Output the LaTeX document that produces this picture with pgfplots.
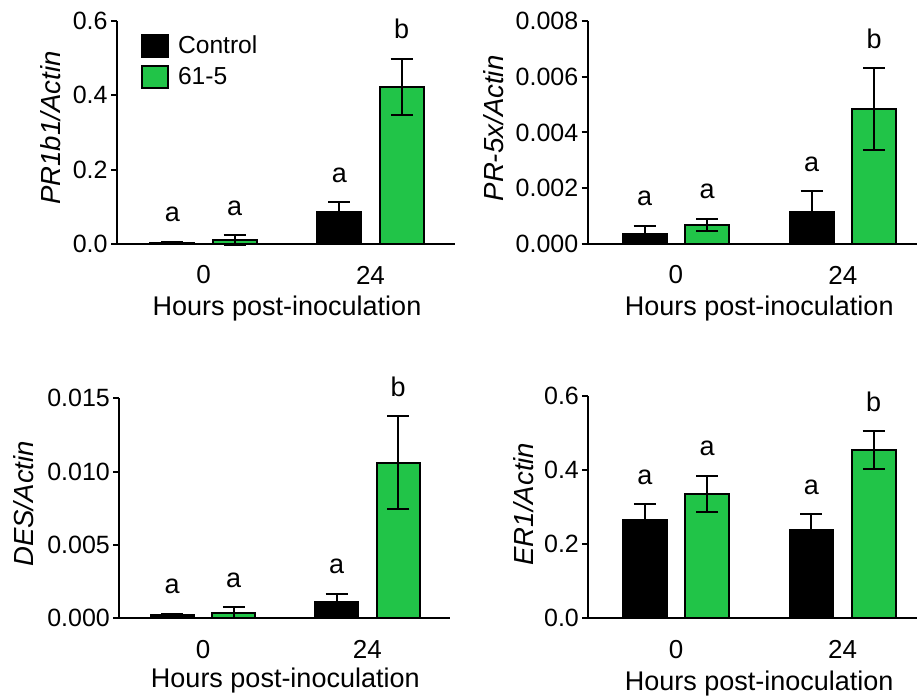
\documentclass[border=0pt]{standalone}
\usepackage{fontspec}
\setmainfont{Liberation Sans}
\usepackage{pgfplots}
\pgfplotsset{compat=1.18}
\definecolor{pgreen}{RGB}{33,196,72}
\tikzset{lett/.style={anchor=base, yshift=10pt, font=\fontsize{13.5}{16}\selectfont}}
\pgfplotsset{
  panel/.style={
    scale only axis,
    axis x line=bottom, axis y line=left,
    axis line style={-, line width=1pt, black},
    ymin=0, clip=false,
    xtick={0,1}, xticklabels={0,24},
    x tick style={draw=none},
    y tick style={line width=1pt, black},
    tick align=outside, major tick length=3pt,
    xticklabel style={anchor=center, yshift=-12.5pt, font=\fontsize{13}{15}\selectfont},
    yticklabel style={inner sep=1.5pt, font=\fontsize{12.5}{15}\selectfont},
    scaled y ticks=false,
    /pgf/number format/assume math mode=true,
    /pgf/number format/fixed, /pgf/number format/fixed zerofill,
    ybar, bar width=0.263, bar shift=0pt,
    xlabel={Hours post-inoculation},
    ylabel style={anchor=center, font=\fontsize{13.8}{16}\selectfont},
    xlabel style={anchor=center, font=\fontsize{13.5}{16}\selectfont},
  },
  ctrl/.style={draw=black, fill=black, line width=1pt,
    error bars/.cd, y dir=plus, y explicit,
    error bar style={line width=1pt, black},
    error mark options={rotate=90, mark size=5.5pt, line width=1pt, black}},
  grn/.style={draw=black, fill=pgreen, line width=1pt,
    error bars/.cd, y dir=both, y explicit,
    error bar style={line width=1pt, black},
    error mark options={rotate=90, mark size=5.5pt, line width=1pt, black}},
}
\begin{document}
\begin{tikzpicture}
\path[use as bounding box] (0,0) rectangle (458.5pt,348.5pt);
% Panel 1
\begin{axis}[panel, at={(58.5pt,226.5pt)}, anchor=south west,
  width=169pt, height=111.5pt,
  xmin=-0.518, xmax=1.506, ymax=0.6, ytick={0,0.2,0.4,0.6},
  /pgf/number format/precision=1,
  ylabel={\itshape PR1b1/Actin},
  ylabel style={at={(axis description cs:-0.195,0.52)}},
  xlabel style={at={(axis description cs:0.503,-0.29)}},
  legend style={draw=none, fill=none, at={(axis description cs:0.07,0.955)}, anchor=north west,
    font=\fontsize{12.3}{14}\selectfont, row sep=1.5pt, inner sep=0pt},
  legend cell align=left,
  legend image code/.code={\draw[#1] (0pt,-5.5pt) rectangle (13pt,5.5pt); \path[draw=none,fill=none] (0pt,0pt) -- (16pt,0pt);},
]
\addplot[ctrl] coordinates {(-0.187,0.003) +- (0,0.003) (0.813,0.085) +- (0,0.027)};
\addplot[grn] coordinates {(0.187,0.011) +- (0,0.013) (1.187,0.422) +- (0,0.076)};
\legend{Control,61-5}
\node[lett] at (axis cs:-0.187,0.006) {a};
\node[lett] at (axis cs:0.187,0.024) {a};
\node[lett] at (axis cs:0.813,0.112) {a};
\node[lett] at (axis cs:1.187,0.498) {b};
\end{axis}
% Panel 2
\begin{axis}[panel, at={(293.85pt,226.5pt)}, anchor=south west,
  width=164.65pt, height=111.5pt,
  xmin=-0.528, xmax=1.444, ymax=0.008, ytick={0,0.002,0.004,0.006,0.008},
  /pgf/number format/precision=3,
  ylabel={\itshape PR-5x/Actin},
  ylabel style={at={(axis description cs:-0.285,0.518)}},
  xlabel style={at={(axis description cs:0.521,-0.29)}},
]
\addplot[ctrl] coordinates {(-0.187,0.00035) +- (0,0.00031) (0.813,0.00114) +- (0,0.00076)};
\addplot[grn] coordinates {(0.187,0.00068) +- (0,0.00022) (1.187,0.00484) +- (0,0.00147)};
\node[lett] at (axis cs:-0.187,0.00066) {a};
\node[lett] at (axis cs:0.187,0.0009) {a};
\node[lett] at (axis cs:0.813,0.0019) {a};
\node[lett] at (axis cs:1.187,0.00631) {b};
\end{axis}
% Panel 3
\begin{axis}[panel, at={(59.65pt,39.35pt)}, anchor=south west,
  width=165.35pt, height=110pt,
  xmin=-0.509, xmax=1.502, ymax=0.015, ytick={0,0.005,0.010,0.015},
  /pgf/number format/precision=3,
  ylabel={\itshape DES/Actin},
  ylabel style={at={(axis description cs:-0.29,0.52)}},
  xlabel style={at={(axis description cs:0.502,-0.283)}},
]
\addplot[ctrl] coordinates {(-0.187,0.0002) +- (0,0.00012) (0.813,0.0011) +- (0,0.00057)};
\addplot[grn] coordinates {(0.187,0.00039) +- (0,0.00036) (1.187,0.0106) +- (0,0.00318)};
\node[lett] at (axis cs:-0.187,0.00032) {a};
\node[lett] at (axis cs:0.187,0.00075) {a};
\node[lett] at (axis cs:0.813,0.00167) {a};
\node[lett] at (axis cs:1.187,0.01378) {b};
\end{axis}
% Panel 4
\begin{axis}[panel, at={(294.15pt,39.35pt)}, anchor=south west,
  width=164.35pt, height=111.3pt,
  xmin=-0.527, xmax=1.447, ymax=0.6, ytick={0,0.2,0.4,0.6},
  /pgf/number format/precision=1,
  ylabel={\itshape ER1/Actin},
  ylabel style={at={(axis description cs:-0.198,0.513)}},
  xlabel style={at={(axis description cs:0.52,-0.292)}},
]
\addplot[ctrl] coordinates {(-0.187,0.265) +- (0,0.042) (0.813,0.238) +- (0,0.043)};
\addplot[grn] coordinates {(0.187,0.335) +- (0,0.049) (1.187,0.453) +- (0,0.051)};
\node[lett] at (axis cs:-0.187,0.307) {a};
\node[lett] at (axis cs:0.187,0.384) {a};
\node[lett] at (axis cs:0.813,0.281) {a};
\node[lett] at (axis cs:1.187,0.504) {b};
\end{axis}
\end{tikzpicture}
\end{document}
